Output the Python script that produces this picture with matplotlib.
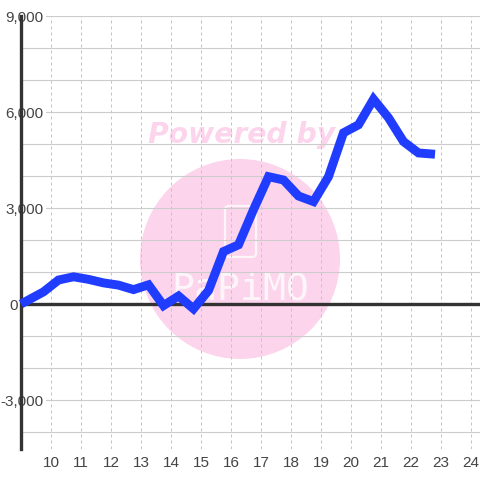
import matplotlib
matplotlib.use("Agg")
import matplotlib.pyplot as plt
from matplotlib.patches import Circle, FancyBboxPatch
from matplotlib.ticker import FixedLocator, FuncFormatter, MultipleLocator
from matplotlib.transforms import Affine2D

plt.rcParams['font.family'] = ['Liberation Sans', 'DejaVu Sans']

x_values = [9.0, 9.75, 10.25, 10.75, 11.25, 11.75, 12.25, 12.75, 13.25, 13.75, 14.25, 14.75,
            15.25, 15.75, 16.25, 16.75, 17.25, 17.75, 18.25, 18.75, 19.25, 19.75, 20.25,
            20.75, 21.25, 21.75, 22.25, 22.8]
y_values = [0, 380, 750, 850, 770, 660, 590, 450, 600, -50, 250, -150,
            420, 1640, 1850, 2950, 3980, 3875, 3375, 3200, 3980, 5350, 5600,
            6400, 5820, 5075, 4720, 4680]
x_ticks = list(range(10, 25))
y_major = [-3000, 0, 3000, 6000, 9000]

W = H = 480
fig = plt.figure(figsize=(4.8, 4.8), dpi=100)
ax = fig.add_axes([20.5 / W, 1 - 449 / H, (480 - 20.5) / W, (449 - 16) / H])
ax.set_xlim(8.983, 24.3)
ax.set_ylim(-4531, 9000)
ax.set_facecolor('none')
ax.set_axisbelow(False)

# watermark, placed in pixel coordinates
px = Affine2D().scale(1, -1).translate(0, H)
pink = '#fcd5ec'
fig.add_artist(Circle((240, 259), 100, transform=px, fc=pink, ec='none', zorder=-5))
fig.text(241.5 / W, 1 - 135 / H, 'Powered by', color=pink, fontsize=20.3, fontweight='bold',
         fontstyle='italic', ha='center', va='center', zorder=-4, fontfamily='DejaVu Sans')
fig.add_artist(FancyBboxPatch((225, 206), 31, 51, boxstyle='round,pad=0,rounding_size=4',
                              transform=px, fc='none', ec='#fdf5fa', lw=1.6, zorder=-4))
fig.text(240 / W, 1 - 289 / H, 'PaPiMO', color='#fdf5fa', fontsize=27.5, ha='center',
         va='center', zorder=-4, fontfamily='DejaVu Sans Mono')

ax.yaxis.set_major_locator(FixedLocator(y_major))
ax.yaxis.set_minor_locator(MultipleLocator(1000))
ax.xaxis.set_major_locator(FixedLocator(x_ticks))
ax.yaxis.set_major_formatter(FuncFormatter(lambda v, p: f'{int(v):,}'))
ax.grid(True, which='major', axis='y', color='#cccccc', lw=0.8, zorder=1)
ax.grid(True, which='minor', axis='y', color='#cccccc', lw=0.8, zorder=1)
ax.grid(True, which='major', axis='x', color='#c4c4c4', lw=0.72, ls=(0, (3, 3)), zorder=1)

for s in ('top', 'right', 'bottom'):
    ax.spines[s].set_visible(False)
ax.spines['left'].set_color('#333333')
ax.spines['left'].set_linewidth(2.4)
ax.spines['left'].set_zorder(3)
ax.axhline(0, color='#333333', lw=2.4, zorder=3)

ax.plot(x_values, y_values, color='#1f3cff', lw=6.4, solid_joinstyle='miter',
        solid_capstyle='butt', clip_on=False, zorder=4)

ax.tick_params(axis='both', which='both', length=0)
ax.tick_params(axis='x', labelsize=11, labelcolor='#444444', pad=5)
ax.tick_params(axis='y', labelsize=11, labelcolor='#444444', pad=0)
for lab, v in zip(ax.get_yticklabels(), y_major):
    lab.set_ha('right')
    shift = -3 if v == 0 else 23
    lab.set_transform(lab.get_transform() + Affine2D().translate(shift, 0))
    lab.set_bbox(dict(fc='white', ec='none', pad=1.5))
    lab.set_zorder(6)
    lab.set_clip_on(False)

fig.savefig('out.png', dpi=100, facecolor='white')
